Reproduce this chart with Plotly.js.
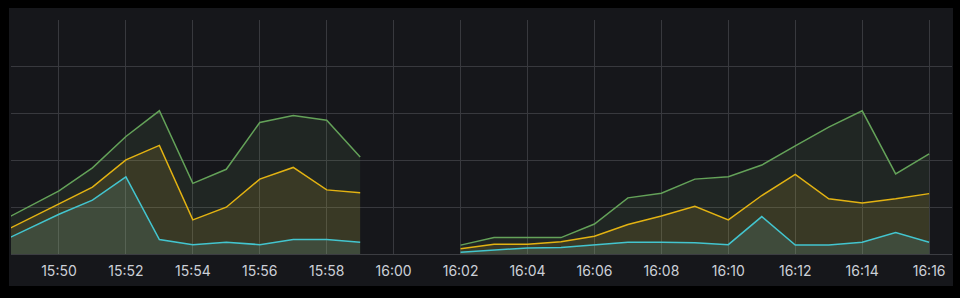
<!DOCTYPE html>
<html>
<head>
<meta charset="utf-8">
<script src="https://cdn.plot.ly/plotly-3.0.1.min.js"></script>
<style>
  html, body { margin: 0; padding: 0; background: #000; width: 960px; height: 298px; overflow: hidden; }
  #chart { position: absolute; left: 9px; top: 8px; width: 944px; height: 278px; }
</style>
</head>
<body>
<div id="chart"></div>
<script>
const times = [
  "2024-01-01 15:48", "2024-01-01 15:49", "2024-01-01 15:50", "2024-01-01 15:51",
  "2024-01-01 15:52", "2024-01-01 15:53", "2024-01-01 15:54", "2024-01-01 15:55",
  "2024-01-01 15:56", "2024-01-01 15:57", "2024-01-01 15:58", "2024-01-01 15:59",
  "2024-01-01 16:00", "2024-01-01 16:01", "2024-01-01 16:02", "2024-01-01 16:03",
  "2024-01-01 16:04", "2024-01-01 16:05", "2024-01-01 16:06", "2024-01-01 16:07",
  "2024-01-01 16:08", "2024-01-01 16:09", "2024-01-01 16:10", "2024-01-01 16:11",
  "2024-01-01 16:12", "2024-01-01 16:13", "2024-01-01 16:14", "2024-01-01 16:15",
  "2024-01-01 16:16"
];
const greenValues = [0.60, 0.97, 1.35, 1.84, 2.51, 3.06, 1.51, 1.81, 2.81, 2.96, 2.86, 2.07,
  null, null, 0.19, 0.35, 0.35, 0.35, 0.64, 1.20, 1.30, 1.60, 1.65, 1.90, 2.31, 2.71, 3.06, 1.71, 2.14];
const yellowValues = [0.36, 0.71, 1.07, 1.43, 2.01, 2.32, 0.73, 1.00, 1.60, 1.85, 1.37, 1.31,
  null, null, 0.11, 0.21, 0.21, 0.26, 0.38, 0.63, 0.81, 1.02, 0.73, 1.25, 1.70, 1.18, 1.09, 1.18, 1.29];
const cyanValues = [0.17, 0.51, 0.85, 1.15, 1.65, 0.31, 0.20, 0.25, 0.20, 0.31, 0.31, 0.25,
  null, null, 0.04, 0.09, 0.13, 0.14, 0.19, 0.25, 0.25, 0.24, 0.20, 0.80, 0.19, 0.19, 0.25, 0.46, 0.25];

const series = [
  { y: greenValues, line: '#64a259', fill: 'rgba(126,178,109,0.10)' },
  { y: yellowValues, line: '#e3b312', fill: 'rgba(234,184,57,0.13)' },
  { y: cyanValues, line: '#43c5cf', fill: 'rgba(110,208,224,0.12)' }
];

// split a series into contiguous segments (no nulls) so each fill closes on its own
function segments(xs, ys) {
  const out = [];
  let cur = null;
  for (let i = 0; i < ys.length; i++) {
    if (ys[i] === null) { cur = null; continue; }
    if (!cur) { cur = { x: [], y: [] }; out.push(cur); }
    cur.x.push(xs[i]); cur.y.push(ys[i]);
  }
  return out;
}

const traces = [];
series.forEach(s => {
  segments(times, s.y).forEach(seg => {
    traces.push({
      type: 'scatter',
      mode: 'lines',
      x: seg.x,
      y: seg.y,
      fill: 'tozeroy',
      fillcolor: s.fill,
      line: { color: s.line, width: 1.5 },
      hoverinfo: 'skip'
    });
  });
});

const layout = {
  width: 944,
  height: 278,
  margin: { l: 2, r: 1, t: 12, b: 32, pad: 0 },
  paper_bgcolor: '#16171b',
  plot_bgcolor: '#16171b',
  showlegend: false,
  xaxis: {
    type: 'date',
    range: ['2024-01-01 15:48:34', '2024-01-01 16:16:41'],
    tick0: '2024-01-01 15:50',
    dtick: 120000,
    tickformat: '%H:%M',
    showgrid: true,
    gridcolor: '#38393e',
    gridwidth: 1,
    zeroline: false,
    showline: false,
    ticks: '',
    ticklabelstandoff: 7,
    tickfont: { family: 'Inter, Roboto, sans-serif', size: 14, color: '#ccd0d8' },
    fixedrange: true
  },
  yaxis: {
    range: [0, 5],
    dtick: 1,
    tick0: 0,
    showticklabels: false,
    showgrid: true,
    gridcolor: '#38393e',
    gridwidth: 1,
    zeroline: true,
    zerolinecolor: '#3c3d42',
    zerolinewidth: 1,
    ticks: '',
    fixedrange: true
  }
};

Plotly.newPlot('chart', traces, layout, { displayModeBar: false, staticPlot: true });
</script>
</body>
</html>
